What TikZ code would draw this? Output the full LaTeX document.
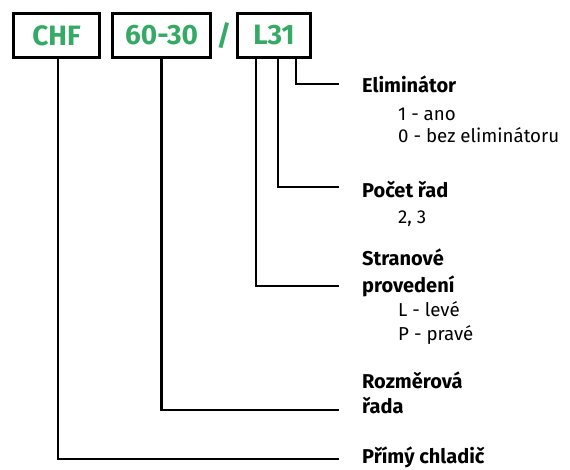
\documentclass[tikz,border=0pt]{standalone}
\usepackage{fontspec}
\setmainfont{Fira Sans}
\definecolor{grn}{RGB}{52,170,100}
\begin{document}
\begin{tikzpicture}[x=1pt,y=-1pt,
 codebox/.style={draw=black,line width=2.6pt,minimum height=44.4pt,inner sep=0pt,text=grn,font=\fontsize{28}{28}\selectfont\bfseries},
 conn/.style={line width=2.2pt},
 title/.style={anchor=base west,inner sep=0pt,font=\fontsize{20}{20}\selectfont\bfseries},
 item/.style={anchor=base west,inner sep=0pt,font=\fontsize{18.7}{18.7}\selectfont}]
\useasboundingbox (0,0) rectangle (570,469);
\node[codebox,minimum width=86.4pt] (chf) at (56.5,35.5) {CHF};
\node[codebox,minimum width=98.4pt] (sz) at (161.5,35.5) {60-30};
\node[text=grn,inner sep=0pt,font=\fontsize{28}{28}\selectfont\bfseries] (sl) at (224,36) {/};
\node[codebox,minimum width=73.4pt] (typ) at (274,35.5) {L31};
% labels
\node[title] (t1) at (362,92) {Eliminátor};
\node[item] (i11) at (398,120) {1 - ano};
\node[item] (i12) at (398,142) {0 - bez eliminátoru};
\node[title] (t2) at (362,197) {Počet řad};
\node[item] (i21) at (398,223) {2, 3};
\node[title] (t3) at (362,265) {Stranové};
\node[title] (t3b) at (362,292) {provedení};
\node[item] (i31) at (398,316) {L - levé};
\node[item] (i32) at (398,340) {P - pravé};
\node[title] (t4) at (362,388) {Rozměrová};
\node[title] (t4b) at (362,413) {řada};
\node[title] (t5) at (362,463) {Přímý chladič};
% connector ends
\coordinate (e1) at (339,84);
\coordinate (e2) at (339,187);
\coordinate (e3) at (339,286);
\coordinate (e4) at (339,410);
\coordinate (e5) at (339,459);
\draw[conn] ([xshift=22pt]typ.south) |- (e1);
\draw[conn] ([xshift=4pt]typ.south) |- (e2);
\draw[conn] ([xshift=-18pt]typ.south) |- (e3);
\draw[conn] (sz.south) |- (e4);
\draw[conn] ([xshift=1.5pt]chf.south) |- (e5);
\end{tikzpicture}
\end{document}
